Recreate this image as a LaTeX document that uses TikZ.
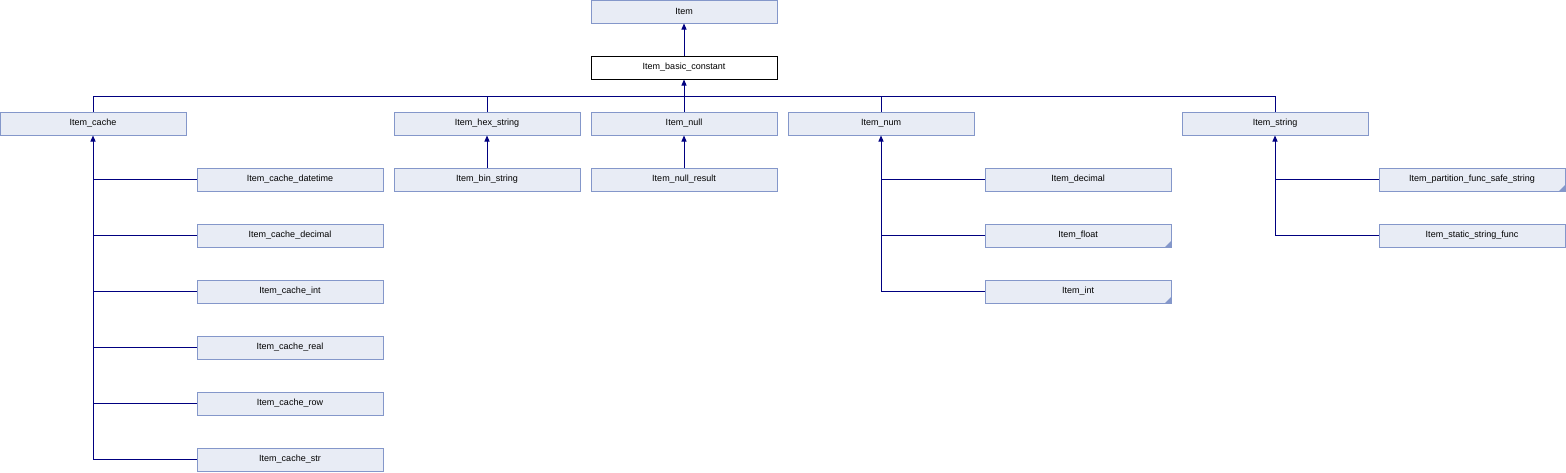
\documentclass[tikz,border=0pt]{standalone}
\usepackage{fontspec}
\setmainfont{Liberation Sans}
\usetikzlibrary{arrows.meta}
\definecolor{boxfill}{RGB}{232,236,245}
\definecolor{boxline}{RGB}{132,151,202}
\definecolor{linkblue}{RGB}{0,0,128}
\tikzstyle{cls}=[draw=boxline,fill=boxfill,line width=1pt,minimum width=186pt,minimum height=23pt,inner sep=0pt,font=\fontsize{9}{11}\selectfont]
\tikzstyle{base}=[cls,draw=black,fill=white]
\tikzstyle{more}=[path picture={\fill[boxline] (path picture bounding box.south east) -- ++(-6pt,0) -- ++(6pt,6pt) -- cycle;}]
\tikzstyle{link}=[linkblue,line width=1pt]
\tikzstyle{inherit}=[link,-{Triangle[length=6pt,width=5pt]}]

\begin{document}
\begin{tikzpicture}[x=1pt,y=-1pt]  % Item_basic_constant hierarchy
\useasboundingbox (0,0) rectangle (1566,472);

\node[cls]  (item)  at (684,11.5) {Item};
\node[base] (basic) at (684,67.5) {Item\_basic\_constant};

\node[cls] (cache)  at (93,123.5)   {Item\_cache};
\node[cls] (hex)    at (487,123.5)  {Item\_hex\_string};
\node[cls] (null)   at (684,123.5)  {Item\_null};
\node[cls] (num)    at (881,123.5)  {Item\_num};
\node[cls] (string) at (1275,123.5) {Item\_string};

\node[cls] (cdatetime) at (290,179.5) {Item\_cache\_datetime};
\node[cls] (cdecimal)  at (290,235.5) {Item\_cache\_decimal};
\node[cls] (cint)      at (290,291.5) {Item\_cache\_int};
\node[cls] (creal)     at (290,347.5) {Item\_cache\_real};
\node[cls] (crow)      at (290,403.5) {Item\_cache\_row};
\node[cls] (cstr)      at (290,459.5) {Item\_cache\_str};

\node[cls] (bin)     at (487,179.5) {Item\_bin\_string};
\node[cls] (nullres) at (684,179.5) {Item\_null\_result};

\node[cls]      (decimal) at (1078,179.5) {Item\_decimal};
\node[cls,more] (float)   at (1078,235.5) {Item\_float};
\node[cls,more] (int)     at (1078,291.5) {Item\_int};

\node[cls,more] (partition) at (1472,179.5) {Item\_partition\_func\_safe\_string};
\node[cls]      (static)    at (1472,235.5) {Item\_static\_string\_func};

\coordinate (bus) at (684,96);

\draw[inherit] (basic) -- (item);
\draw[inherit] (bus) -- (basic);
\draw[link] (cache.north) |- (bus);
\draw[link] (hex.north) |- (bus);
\draw[link] (null.north) -- (bus);
\draw[link] (num.north) |- (bus);
\draw[link] (string.north) |- (bus);

\draw[inherit] (bin) -- (hex);
\draw[inherit] (nullres) -- (null);

\draw[inherit] (cstr.west) -| (cache.south);
\draw[link] (cdatetime.west) -- (cdatetime.west -| cache.south);
\draw[link] (cdecimal.west) -- (cdecimal.west -| cache.south);
\draw[link] (cint.west) -- (cint.west -| cache.south);
\draw[link] (creal.west) -- (creal.west -| cache.south);
\draw[link] (crow.west) -- (crow.west -| cache.south);

\draw[inherit] (int.west) -| (num.south);
\draw[link] (decimal.west) -- (decimal.west -| num.south);
\draw[link] (float.west) -- (float.west -| num.south);

\draw[inherit] (static.west) -| (string.south);
\draw[link] (partition.west) -- (partition.west -| string.south);
\end{tikzpicture}
\end{document}
